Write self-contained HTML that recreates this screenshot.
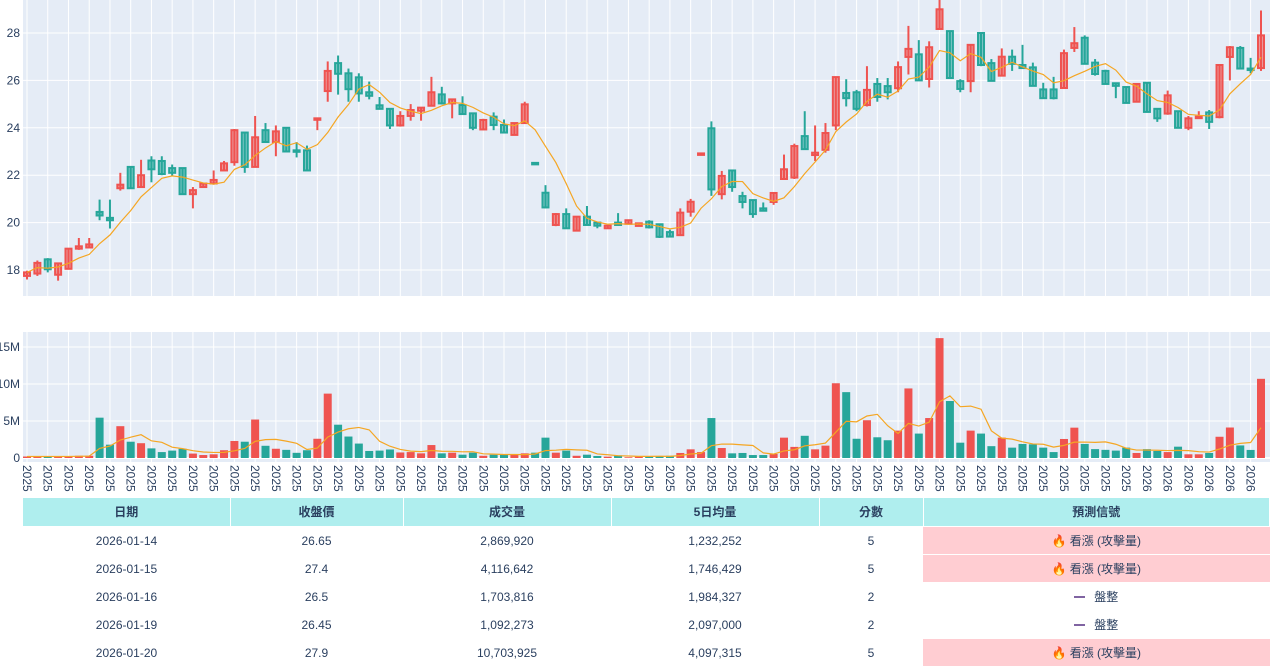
<!DOCTYPE html>
<html><head><meta charset="utf-8">
<style>
body{margin:0;background:#fff;width:1280px;height:666px;overflow:hidden;font-family:"Liberation Sans","Noto Sans CJK TC",sans-serif;}
#chart{position:absolute;left:0;top:0;}
table{position:absolute;left:23px;top:498px;width:1247px;border-collapse:collapse;font-size:12px;color:#2a3f5f;table-layout:fixed;}
th{background:#afeeee;height:28px;font-weight:bold;border-right:1px solid #fff;text-align:center;padding:0;line-height:14px;}
td{height:27px;text-align:center;padding:0;border-top:1px solid #fff;line-height:14px;}
td.hot{background:#ffcdd2;}
.dash{display:inline-block;width:11px;height:2px;background:#8064a2;vertical-align:middle;margin-right:9px;}
</style></head><body>
<svg id="chart" width="1280" height="498"></svg>
<table>
<colgroup><col style="width:207px"><col style="width:173px"><col style="width:208px"><col style="width:208px"><col style="width:104px"><col></colgroup>
<tr><th>日期</th><th>收盤價</th><th>成交量</th><th>5日均量</th><th>分數</th><th>預測信號</th></tr>
<tr><td>2026-01-14</td><td>26.65</td><td>2,869,920</td><td>1,232,252</td><td>5</td><td class="hot">🔥 看漲 (攻擊量)</td></tr>
<tr><td>2026-01-15</td><td>27.4</td><td>4,116,642</td><td>1,746,429</td><td>5</td><td class="hot">🔥 看漲 (攻擊量)</td></tr>
<tr><td>2026-01-16</td><td>26.5</td><td>1,703,816</td><td>1,984,327</td><td>2</td><td><span class="dash"></span>盤整</td></tr>
<tr><td>2026-01-19</td><td>26.45</td><td>1,092,273</td><td>2,097,000</td><td>2</td><td><span class="dash"></span>盤整</td></tr>
<tr><td>2026-01-20</td><td>27.9</td><td>10,703,925</td><td>4,097,315</td><td>5</td><td class="hot">🔥 看漲 (攻擊量)</td></tr>
</table>
<script>
const opens=[17.75,17.85,18.45,17.8,18.05,18.9,18.95,20.45,20.2,21.45,22.35,21.5,22.62,22.6,22.3,22.3,21.2,21.5,21.65,22.2,22.55,23.8,22.35,23.9,23.4,24.0,23.05,23.05,24.35,25.55,26.73,26.3,26.13,25.5,24.95,24.8,24.1,24.5,24.72,24.93,25.41,25.03,24.96,24.61,23.93,24.47,24.12,23.7,24.2,22.52,21.26,19.9,20.36,19.66,20.25,20.0,19.76,20.0,19.95,19.86,20.04,19.93,19.6,19.47,20.46,22.88,23.98,21.2,22.2,21.12,20.95,20.6,20.87,21.84,21.9,23.65,22.85,23.07,24.1,25.47,25.5,24.96,25.85,25.76,25.67,26.99,27.1,26.06,28.17,28.08,25.97,25.97,28.0,26.73,26.2,27.0,26.65,26.55,25.62,25.62,25.68,27.37,27.8,26.75,26.4,25.88,25.72,25.1,25.9,24.8,24.6,24.7,24.0,24.42,24.65,24.45,26.99,27.37,26.5,26.52];
const highs=[17.97,18.4,18.5,18.3,18.9,19.35,19.35,20.97,20.97,22.1,22.35,22.65,22.8,22.8,22.45,22.3,21.5,21.65,22.2,22.6,23.95,23.8,24.5,24.2,24.1,24.0,23.4,23.25,24.4,26.8,27.05,26.5,26.3,25.95,25.3,24.8,24.7,25.0,24.85,26.15,25.73,25.2,25.33,24.61,24.38,24.65,24.35,24.2,25.1,22.52,21.58,20.4,20.6,20.25,20.7,20.0,19.87,20.4,20.1,19.97,20.1,19.93,19.7,20.6,21.0,22.92,24.27,22.18,22.2,21.3,20.95,20.85,21.25,22.87,23.33,24.7,24.1,24.2,26.14,26.05,25.6,26.6,26.1,26.1,26.8,28.3,27.7,27.65,29.6,28.1,26.05,27.5,28.0,26.9,27.35,27.3,27.5,26.75,25.9,26.15,27.3,28.25,27.9,26.9,26.45,25.9,25.72,25.85,25.9,24.8,25.57,24.7,24.5,24.7,24.75,26.65,27.45,27.45,26.95,28.95];
const lows=[17.6,17.75,17.9,17.55,18.05,18.85,18.95,20.1,19.75,21.35,21.45,21.5,21.7,22.0,21.95,21.2,20.6,21.5,21.6,22.2,22.4,22.1,22.35,23.4,22.8,23.0,22.75,22.2,23.9,25.1,25.4,25.1,25.1,25.2,24.8,23.95,24.05,24.3,24.3,24.9,24.98,24.4,24.58,23.9,23.93,23.9,23.8,23.7,24.2,22.47,20.6,19.85,19.73,19.66,19.9,19.76,19.73,19.9,19.95,19.85,19.75,19.35,19.41,19.47,20.25,22.88,21.13,20.98,21.3,20.6,20.2,20.5,20.75,21.84,21.84,23.1,22.6,22.95,23.9,24.9,24.7,24.9,25.1,25.2,25.5,26.25,26.0,25.7,28.17,26.1,25.5,25.5,26.6,25.98,26.2,26.4,26.52,25.75,25.25,25.2,25.68,27.2,26.7,26.2,25.85,25.25,25.05,25.1,24.67,24.25,24.55,24.0,23.9,24.4,23.95,24.4,26.0,26.48,26.3,26.4];
const closes=[17.9,18.3,18.03,18.28,18.9,19.0,19.08,20.3,20.1,21.6,21.45,22.0,22.25,22.05,22.1,21.2,21.37,21.65,21.8,22.5,23.9,22.35,23.6,23.4,23.85,23.0,23.0,22.2,24.4,26.4,26.28,25.63,25.45,25.35,24.8,24.1,24.5,24.75,24.85,25.5,25.03,25.2,24.58,24.0,24.33,24.12,23.8,24.2,24.99,22.47,20.64,20.36,19.76,20.25,19.9,19.87,19.87,19.9,20.1,19.97,19.8,19.4,19.41,20.42,20.88,22.92,21.4,21.97,21.5,20.87,20.36,20.5,21.25,22.25,23.23,23.1,22.95,23.78,26.14,25.25,24.8,25.6,25.3,25.5,26.56,27.33,26.0,27.4,29.0,26.1,25.64,27.5,26.65,25.98,27.0,26.7,26.52,25.77,25.25,25.25,27.15,27.57,26.7,26.27,25.85,25.77,25.05,25.85,24.67,24.4,25.37,24.0,24.4,24.47,24.25,26.65,27.4,26.5,26.45,27.9];
const volumes=[0.2,0.2,0.2,0.2,0.25,0.3,0.3,5.45,1.8,4.3,2.2,2.0,1.3,0.8,1.0,1.25,0.6,0.4,0.5,1.05,2.3,2.2,5.2,1.65,1.25,1.1,0.7,1.05,2.6,8.7,4.5,2.9,1.95,0.95,1.0,1.15,0.75,0.8,0.63,1.75,0.63,0.72,0.45,0.72,0.3,0.45,0.45,0.45,0.63,0.72,2.75,0.72,1.0,0.3,0.45,0.27,0.18,0.36,0.1,0.18,0.27,0.27,0.3,0.68,1.17,0.8,5.4,1.35,0.63,0.68,0.4,0.4,0.54,2.75,1.5,3.0,1.17,1.67,10.1,8.9,2.6,5.1,2.8,2.4,3.7,9.4,3.3,5.4,16.2,7.7,2.07,3.7,3.3,1.6,2.75,1.4,1.9,1.85,1.4,0.8,2.57,4.1,1.9,1.2,1.1,1.0,1.4,0.68,1.2,0.95,0.8,1.53,0.5,0.5,0.68,2.87,4.12,1.7,1.09,10.7];
const priceTicks=[18,20,22,24,26,28];
const volTicks=[0,5,10,15];
const volTickLabels=["0","5M","10M","15M"];
const yearLabels=volumes.map((v,i)=>i>=107?"2026":"2025");

const svg=document.getElementById('chart');
const NS='http://www.w3.org/2000/svg';
const N=opens.length;
const X0=23,X1=1270;
const xs=i=>27+(1261-27)*i/(N-1);
const yP=p=>33+(28-p)*23.7;
const yV=v=>458-v*7.4;
const RED='#ef5350',GRN='#26a69a';
function mk(tag,attrs,parent){const e=document.createElementNS(NS,tag);for(const k in attrs)e.setAttribute(k,attrs[k]);(parent||svg).appendChild(e);return e;}
function ma(arr){return arr.map((v,i)=>{const s=arr.slice(Math.max(0,i-4),i+1);return s.reduce((a,b)=>a+b,0)/s.length;});}

let bg1=mk('rect',{x:X0,y:0,width:X1-X0,height:296,fill:'#e5ecf6'});


let bg2=mk('rect',{x:X0,y:332,width:X1-X0,height:130,fill:'#e5ecf6'});


for(let i=0;i<N;i+=2){
  const x=xs(i);
  mk('line',{x1:x,x2:x,y1:0,y2:296,stroke:'#fff','stroke-width':1});
  mk('line',{x1:x,x2:x,y1:332,y2:462,stroke:'#fff','stroke-width':1});
  const t=mk('text',{x:0,y:0,transform:`translate(${x-4},465) rotate(90)`,'font-size':12,fill:'#2a3f5f','font-family':'Liberation Sans, sans-serif'});
  t.textContent=yearLabels[i];
  
  
}
priceTicks.forEach(p=>{
  mk('line',{x1:X0,x2:X1,y1:yP(p),y2:yP(p),stroke:'#fff','stroke-width':1});
  const t=mk('text',{x:20,y:yP(p)+4,'text-anchor':'end','font-size':12,fill:'#2a3f5f'});
  t.textContent=p;
  
  
});
volTicks.forEach((v,k)=>{
  mk('line',{x1:X0,x2:X1,y1:yV(v),y2:yV(v),stroke:'#fff','stroke-width':v===0?2:1});
  const t=mk('text',{x:20,y:yV(v)+4,'text-anchor':'end','font-size':12,fill:'#2a3f5f'});
  t.textContent=volTickLabels[k];
  
  
});
for(let i=0;i<N;i++){
  const up=closes[i]>=opens[i];const c=up?RED:GRN;const x=xs(i);
  const g=mk('g',{});
  
  
  mk('line',{x1:x,x2:x,y1:yP(highs[i]),y2:yP(lows[i]),stroke:c,'stroke-width':2},g);
  const top=yP(Math.max(opens[i],closes[i])),bot=yP(Math.min(opens[i],closes[i]));
  mk('rect',{x:x-3,y:top,width:6,height:Math.max(bot-top,1.5),fill:c,'fill-opacity':0.55,stroke:c,'stroke-width':2},g);
}
const pm=ma(closes);
let l1=mk('polyline',{points:pm.map((v,i)=>xs(i)+','+yP(v)).join(' '),fill:'none',stroke:'#f5a623','stroke-width':1.2});


for(let i=0;i<N;i++){
  const up=closes[i]>=opens[i];const x=xs(i);
  const r=mk('rect',{x:x-4,y:yV(volumes[i]),width:8,height:yV(0)-yV(volumes[i]),fill:up?RED:GRN});
  
  
}
const vm=ma(volumes);
let l2=mk('polyline',{points:vm.map((v,i)=>xs(i)+','+yV(v)).join(' '),fill:'none',stroke:'#f5a623','stroke-width':1.2});


</script>
</body></html>
